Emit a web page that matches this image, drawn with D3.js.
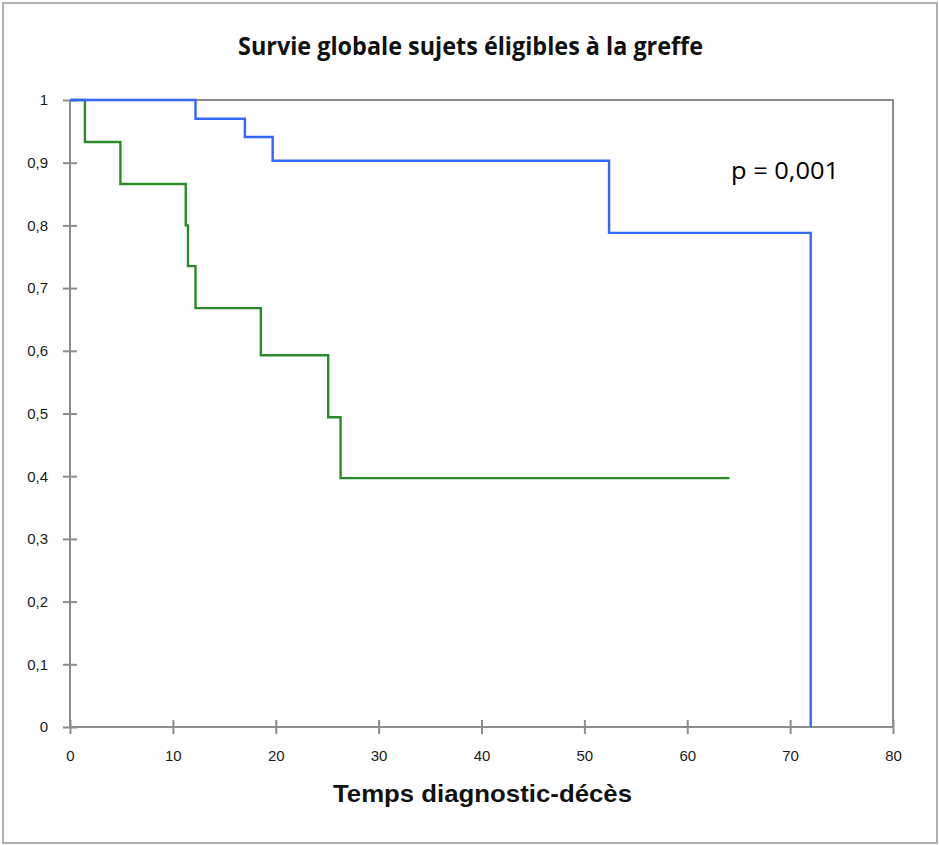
<!DOCTYPE html>
<html><head><meta charset="utf-8">
<script src="https://cdn.jsdelivr.net/npm/d3@7"></script>
<style>body{margin:0;background:#fff}svg{display:block}</style>
</head><body>
<script>
// Data (Kaplan-Meier steps: time, survival)
const blueTimes = [0, 12.2, 17.0, 19.7, 52.4, 72.0];
const blueSurv  = [1, 0.970, 0.941, 0.903, 0.788, 0];
const blueEnd = 72.0;
const greenTimes = [0, 1.45, 4.9, 11.25, 11.47, 12.2, 18.55, 25.1, 26.3];
const greenSurv  = [1, 0.933, 0.866, 0.800, 0.735, 0.668, 0.593, 0.494, 0.397];
const greenEnd = 64.1;
const xTicks = [0,10,20,30,40,50,60,70,80];
const yTicks = [0,0.1,0.2,0.3,0.4,0.5,0.6,0.7,0.8,0.9,1];
const titleText = "Survie globale sujets éligibles à la greffe";
const xTitle = "Temps diagnostic-décès";
const pText = "p = 0,001";

const W = 939, H = 845;
const svg = d3.select("body").append("svg").attr("width", W).attr("height", H);
svg.append("rect").attr("x",3).attr("y",3).attr("width",934).attr("height",840)
  .attr("fill","#fff").attr("stroke","#b0b0b0").attr("stroke-width",2);

const x = d3.scaleLinear().domain([0,80]).range([70,893]);
const y = d3.scaleLinear().domain([0,1]).range([727,100]);

// frame (top & right)
svg.append("path").attr("d",`M${x(0)},${y(1)}H${x(80)}V${y(0)}`)
  .attr("fill","none").attr("stroke","#8c8c8c").attr("stroke-width",2);

const fmt = d => d===0 ? "0" : d===1 ? "1" : d3.format(".1f")(d).replace(".", ",");
const tickFont = "'Liberation Sans Narrow', 'Liberation Sans', Arial, sans-serif";

// y axis
const gy = svg.append("g").attr("transform",`translate(${x(0)},0)`)
  .call(d3.axisLeft(y).tickValues(yTicks).tickSize(7).tickFormat(fmt));
gy.select(".domain").attr("stroke","#8c8c8c").attr("stroke-width",2)
  .attr("d",`M0,${y(0)}V${y(1)}`);
gy.selectAll(".tick line").attr("stroke","#8c8c8c").attr("stroke-width",2).attr("x2",-7).attr("x1",7);
gy.selectAll(".tick text").attr("x",-22).attr("fill","#1a1a1a").attr("font-size",15)
  .attr("font-family",tickFont);

// x axis
const gx = svg.append("g").attr("transform",`translate(0,${y(0)})`)
  .call(d3.axisBottom(x).tickValues(xTicks).tickSize(7).tickFormat(d3.format("d")));
gx.select(".domain").attr("stroke","#8c8c8c").attr("stroke-width",2)
  .attr("d",`M${x(0)},0H${x(80)}`);
gx.selectAll(".tick line").attr("stroke","#8c8c8c").attr("stroke-width",2).attr("y1",-7).attr("y2",7);
gx.selectAll(".tick text").attr("y",23).attr("fill","#1a1a1a").attr("font-size",15)
  .attr("font-family",tickFont);

function stepPath(ts, ss, end){
  const pts = [];
  for(let i=0;i<ts.length;i++){
    if(i>0) pts.push([ts[i], ss[i-1]]);
    pts.push([ts[i], ss[i]]);
  }
  const last = ss[ss.length-1];
  if(end > ts[ts.length-1]) pts.push([end, last]);
  return d3.line().x(d=>x(d[0])).y(d=>y(d[1]))(pts);
}
svg.append("path").attr("d", stepPath(greenTimes, greenSurv, greenEnd))
  .attr("fill","none").attr("stroke","#2a8a2a").attr("stroke-width",2.4);
svg.append("path").attr("d", stepPath(blueTimes, blueSurv, blueEnd))
  .attr("fill","none").attr("stroke","#3366ff").attr("stroke-width",2.4);

svg.append("text").attr("x",238).attr("y",55).attr("textLength",465).attr("lengthAdjust","spacingAndGlyphs")
  .attr("font-family","'Open Sans', sans-serif").attr("font-weight","bold").attr("font-size",25)
  .attr("fill","#111").text(titleText);
svg.append("text").attr("x",333).attr("y",802).attr("textLength",299).attr("lengthAdjust","spacingAndGlyphs")
  .attr("font-family","'Liberation Sans', Arial, sans-serif").attr("font-weight","bold").attr("font-size",24)
  .attr("fill","#111").text(xTitle);
svg.append("text").attr("x",731).attr("y",179).attr("textLength",108).attr("lengthAdjust","spacingAndGlyphs")
  .attr("font-family","'Open Sans', sans-serif").attr("font-size",23)
  .attr("fill","#000").text(pText);
</script>
</body></html>
